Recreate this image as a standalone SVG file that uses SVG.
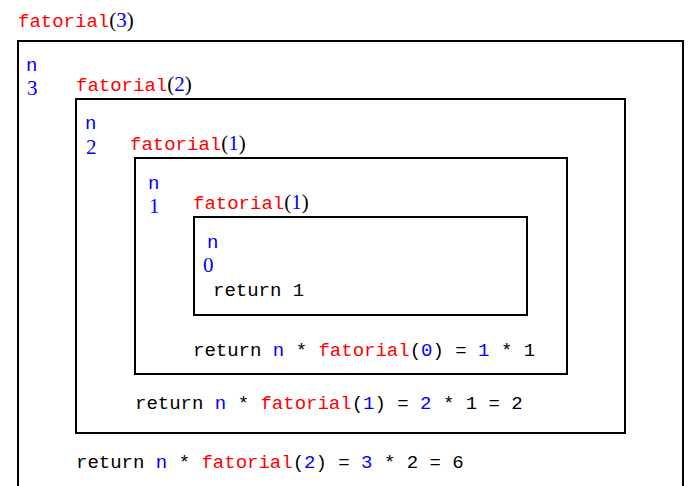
<svg xmlns="http://www.w3.org/2000/svg" width="688" height="486" viewBox="0 0 688 486">
<style>
.box{fill:none;stroke:#000;stroke-width:2}
.m{font-family:"Liberation Mono","DejaVu Sans Mono",monospace;font-size:19px;fill:#000;white-space:pre}
.s{font-family:"Liberation Serif","DejaVu Serif",serif;font-size:21px;fill:#000}
.r{fill:#ff0000}
.b{fill:#0000ff}
</style>
<rect width="688" height="486" fill="#fff"/>
<g id="call3">
<text x="18" y="27"><tspan class="m r">fatorial</tspan><tspan class="s">(</tspan><tspan class="s b">3</tspan><tspan class="s">)</tspan></text>
<rect class="box" x="18" y="41" width="665" height="470"/>
<text class="m b" x="26" y="71">n</text>
<text class="s b" x="27" y="95">3</text>
<text class="m" x="76" y="468">return <tspan class="b">n</tspan> * <tspan class="r">fatorial</tspan>(<tspan class="b">2</tspan>) = <tspan class="b">3</tspan> * 2 = 6</text>
</g>
<g id="call2">
<text x="76" y="91"><tspan class="m r">fatorial</tspan><tspan class="s">(</tspan><tspan class="s b">2</tspan><tspan class="s">)</tspan></text>
<rect class="box" x="76" y="99" width="549" height="334"/>
<text class="m b" x="85" y="129">n</text>
<text class="s b" x="86" y="154">2</text>
<text class="m" x="135" y="409">return <tspan class="b">n</tspan> * <tspan class="r">fatorial</tspan>(<tspan class="b">1</tspan>) = <tspan class="b">2</tspan> * 1 = 2</text>
</g>
<g id="call1">
<text x="130" y="150"><tspan class="m r">fatorial</tspan><tspan class="s">(</tspan><tspan class="s b">1</tspan><tspan class="s">)</tspan></text>
<rect class="box" x="135" y="158" width="432" height="216"/>
<text class="m b" x="148" y="189">n</text>
<text class="s b" x="149" y="213">1</text>
<text class="m" x="193" y="356">return <tspan class="b">n</tspan> * <tspan class="r">fatorial</tspan>(<tspan class="b">0</tspan>) = <tspan class="b">1</tspan> * 1</text>
</g>
<g id="call0">
<text x="193" y="209"><tspan class="m r">fatorial</tspan><tspan class="s">(</tspan><tspan class="s b">1</tspan><tspan class="s">)</tspan></text>
<rect class="box" x="194" y="217" width="333" height="98"/>
<text class="m b" x="207" y="248">n</text>
<text class="s b" x="203" y="272">0</text>
<text class="m" x="213" y="296">return 1</text>
</g>
</svg>
